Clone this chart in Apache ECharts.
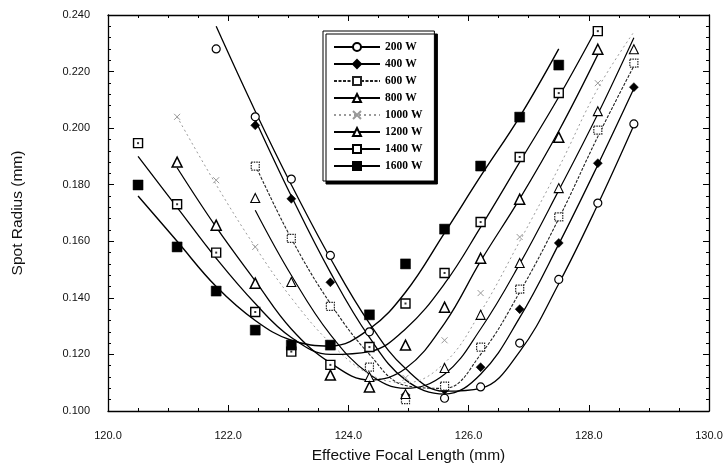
<!DOCTYPE html>
<html>
<head>
<meta charset="utf-8">
<script src="https://cdn.jsdelivr.net/npm/echarts@6/dist/echarts.min.js"></script>
<style>
    html, body { margin: 0; padding: 0; background: #fff; }
    #chart { width: 727px; height: 474px; }
</style>
</head>
<body>
<div id="chart"></div>
<script>
// focal length positions (mm) where the spot radius was measured
var focalLength = [120.5, 121.15, 121.8, 122.45, 123.05, 123.7, 124.35, 124.95, 125.6, 126.2, 126.85, 127.5, 128.15, 128.75];

// measured spot radius (mm), null = no point
var pts200  = [null, null, 0.228, 0.204, 0.182, 0.155, 0.128, null, 0.1045, 0.1085, 0.124, 0.1465, 0.1735, 0.2015];
var pts400  = [null, null, null, 0.201, 0.175, 0.1455, null, 0.1057, 0.1074, 0.1155, 0.136, 0.1594, 0.1876, 0.2145];
var pts600  = [null, null, null, 0.1866, 0.161, 0.137, 0.1155, 0.104, 0.1088, 0.1226, 0.1431, 0.1686, 0.1993, 0.223];
var pts800  = [null, null, null, 0.1753, 0.1456, null, 0.112, 0.106, 0.1152, 0.134, 0.1523, 0.1788, 0.206, 0.2279];
var pts1000 = [null, 0.204, 0.1816, 0.158, null, null, null, 0.1117, 0.125, 0.1417, 0.1615, null, 0.2159, null];
var pts1200 = [null, 0.188, 0.1657, 0.1452, null, 0.1127, 0.1085, 0.1233, 0.1367, 0.154, 0.1749, 0.1968, 0.2279, null];
var pts1400 = [0.1947, 0.1731, 0.156, 0.135, 0.121, 0.1163, 0.1226, 0.138, 0.1488, 0.1668, 0.1898, 0.2124, 0.2343, null];
var pts1600 = [0.1799, 0.158, 0.1424, 0.1286, 0.1233, 0.1233, 0.134, 0.152, 0.1643, 0.1866, 0.2039, 0.2223, null, null];

// fitted curves at the same focal lengths
var fit200  = [null, null, 0.236, 0.206, 0.180, 0.154, 0.131, 0.115, 0.107, 0.108, 0.121, 0.145, 0.173, 0.201];
var fit400  = [null, null, null, 0.203, 0.176, 0.149, 0.126, 0.111, 0.106, 0.113, 0.133, 0.159, 0.187, 0.214];
var fit600  = [null, null, null, 0.187, 0.161, 0.138, 0.120, 0.109, 0.108, 0.120, 0.142, 0.168, 0.197, 0.222];
var fit800  = [null, null, null, 0.171, 0.148, 0.127, 0.113, 0.108, 0.113, 0.129, 0.152, 0.178, 0.205, 0.232];
var fit1000 = [null, 0.204, 0.180, 0.158, 0.140, 0.124, 0.113, 0.110, 0.117, 0.135, 0.160, 0.186, 0.214, 0.234];
var fit1200 = [null, 0.186, 0.165, 0.146, 0.129, 0.117, 0.111, 0.115, 0.131, 0.153, 0.175, 0.199, 0.226, null];
var fit1400 = [0.190, 0.172, 0.154, 0.138, 0.126, 0.120, 0.121, 0.129, 0.145, 0.165, 0.188, 0.211, 0.236, null];
var fit1600 = [0.176, 0.160, 0.144, 0.132, 0.125, 0.123, 0.129, 0.142, 0.163, 0.183, 0.204, 0.228, null, null];

var crossPath = 'path://M0,0L10,10M10,0L0,10';

var powers = [
    { name: '200 W',  pts: pts200,  fit: fit200,  symbol: 'circle',   size: 8,  fill: '#fff', border: '#000', bw: 1.2, btype: 'solid', line: '#000', lw: 1.3, ltype: 'solid' },
    { name: '400 W',  pts: pts400,  fit: fit400,  symbol: 'diamond',  size: 9,  fill: '#000', border: '#000', bw: 0.5, btype: 'solid', line: '#000', lw: 1.3, ltype: 'solid' },
    { name: '600 W',  pts: pts600,  fit: fit600,  symbol: 'rect',     size: 8,  fill: '#fff', border: '#222', bw: 1.2, btype: [1.5, 1], line: '#222', lw: 1.1, ltype: [3, 1.5] },
    { name: '800 W',  pts: pts800,  fit: fit800,  symbol: 'triangle', size: 9,  fill: '#fff', border: '#000', bw: 1.1, btype: 'solid', line: '#000', lw: 1.2, ltype: 'solid' },
    { name: '1000 W', pts: pts1000, fit: fit1000, symbol: crossPath,  size: 6,  fill: '#aaa', border: '#999', bw: 1,   btype: 'solid', line: '#9a9a9a', lw: 1, ltype: [2, 3] },
    { name: '1200 W', pts: pts1200, fit: fit1200, symbol: 'triangle', size: 10, fill: '#fff', border: '#000', bw: 1.5, btype: 'solid', line: '#000', lw: 1.3, ltype: 'solid' },
    { name: '1400 W', pts: pts1400, fit: fit1400, symbol: 'rect',     size: 9,  fill: '#fff', border: '#000', bw: 1.4, btype: 'solid', line: '#000', lw: 1.3, ltype: 'solid' },
    { name: '1600 W', pts: pts1600, fit: fit1600, symbol: 'rect',     size: 10, fill: '#000', border: '#000', bw: 0.5, btype: 'solid', line: '#000', lw: 1.4, ltype: 'solid' }
];

function pairs(ys) {
    var out = [], i;
    for (i = 0; i < focalLength.length; i++) {
        if (ys[i] !== null) {
            out.push([focalLength[i], ys[i]]);
        }
    }
    return out;
}

var series = [], legendNames = [], i, p;

for (i = 0; i < powers.length; i++) {
    p = powers[i];
    legendNames.push(p.name);
    series.push({
        name: p.name,
        type: 'line',
        data: pairs(p.fit),
        smooth: 0.4,
        showSymbol: false,
        symbol: p.symbol,
        symbolSize: p.size,
        silent: true,
        z: 2,
        itemStyle: { color: p.fill, borderColor: p.border, borderWidth: p.bw, borderType: p.btype },
        lineStyle: { color: p.line, width: p.lw, type: p.ltype }
    });
    series.push({
        name: p.name + ' data',
        type: 'scatter',
        data: pairs(p.pts),
        symbol: p.symbol,
        symbolSize: p.size,
        z: 4,
        itemStyle: { color: p.fill, borderColor: p.border, borderWidth: p.bw, borderType: p.btype, opacity: 1 }
    });
}

// little centre dot in the 1400 W squares
series.push({
    name: '1400 W dot',
    type: 'scatter',
    data: pairs(pts1400),
    symbol: 'rect',
    symbolSize: 2,
    z: 5,
    itemStyle: { color: '#000' }
});

var axisFont = { fontFamily: 'Liberation Sans', fontSize: 11, color: '#111' };

var chart = echarts.init(document.getElementById('chart'));

chart.setOption({
    animation: false,
    backgroundColor: '#fff',
    grid: { left: 108, right: 18, top: 15, bottom: 63 },
    legend: {
        data: legendNames,
        orient: 'vertical',
        left: 323,
        top: 31,
        itemWidth: 46,
        itemHeight: 10,
        itemGap: 5,
        padding: [10, 12, 9, 10],
        backgroundColor: '#fff',
        borderColor: '#000',
        borderWidth: 1,
        shadowColor: '#000',
        shadowOffsetX: 3,
        shadowOffsetY: 3,
        shadowBlur: 0.01,
        selectedMode: false,
        textStyle: { fontFamily: 'Liberation Serif', fontWeight: 'bold', fontSize: 11.5, color: '#000' }
    },
    xAxis: [
        {
            type: 'value',
            min: 120,
            max: 130,
            interval: 2,
            name: 'Effective Focal Length (mm)',
            nameLocation: 'middle',
            nameGap: 37,
            nameTextStyle: { fontFamily: 'Liberation Sans', fontSize: 15.5, color: '#111' },
            axisLine: { lineStyle: { color: '#000', width: 1.3 } },
            axisTick: { inside: true, length: 6, lineStyle: { color: '#000' } },
            minorTick: { show: true, splitNumber: 4, length: 3, lineStyle: { color: '#000' } },
            splitLine: { show: false },
            axisLabel: {
                margin: 19,
                fontFamily: axisFont.fontFamily, fontSize: axisFont.fontSize, color: axisFont.color,
                formatter: function (v) { return v.toFixed(1); }
            }
        },
        {
            type: 'value',
            position: 'top',
            min: 120,
            max: 130,
            interval: 2,
            axisLine: { lineStyle: { color: '#000', width: 1.3 } },
            axisTick: { inside: true, length: 6, lineStyle: { color: '#000' } },
            minorTick: { show: true, splitNumber: 4, length: 3, lineStyle: { color: '#000' } },
            splitLine: { show: false },
            axisLabel: { show: false }
        }
    ],
    yAxis: [
        {
            type: 'value',
            min: 0.1,
            max: 0.24,
            interval: 0.02,
            name: 'Spot Radius (mm)',
            nameLocation: 'middle',
            nameGap: 82,
            nameTextStyle: { fontFamily: 'Liberation Sans', fontSize: 15.5, color: '#111' },
            axisLine: { show: true, lineStyle: { color: '#000', width: 1.3 } },
            axisTick: { show: true, inside: true, length: 6, lineStyle: { color: '#000' } },
            minorTick: { show: true, splitNumber: 5, length: 3, lineStyle: { color: '#000' } },
            splitLine: { show: false },
            axisLabel: {
                margin: 18,
                fontFamily: axisFont.fontFamily, fontSize: axisFont.fontSize, color: axisFont.color,
                formatter: function (v) { return v.toFixed(3); }
            }
        },
        {
            type: 'value',
            position: 'right',
            min: 0.1,
            max: 0.24,
            interval: 0.02,
            axisLine: { show: true, lineStyle: { color: '#000', width: 1.3 } },
            axisTick: { show: true, inside: true, length: 6, lineStyle: { color: '#000' } },
            minorTick: { show: true, splitNumber: 5, length: 3, lineStyle: { color: '#000' } },
            splitLine: { show: false },
            axisLabel: { show: false }
        }
    ],
    series: series
});
</script>
</body>
</html>
